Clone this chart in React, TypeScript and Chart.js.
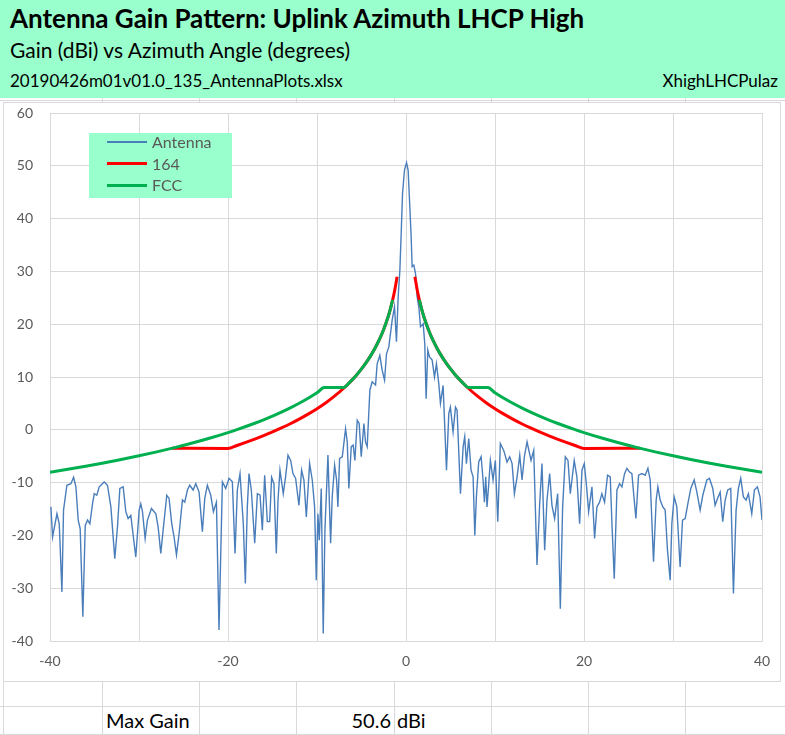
import React, { useEffect, useRef } from "react";
import { Chart, registerables } from "chart.js";

Chart.register(...registerables);

// ---- Data ----
const TITLE = "Antenna Gain Pattern: Uplink Azimuth LHCP High";
const SUBTITLE = "Gain (dBi) vs Azimuth Angle (degrees)";
const FILE_NAME = "20190426m01v01.0_135_AntennaPlots.xlsx";
const SHEET_ID = "XhighLHCPulaz";
const SERIES_NAMES = ["Antenna", "164", "FCC"];
const MAX_GAIN_LABEL = "Max Gain";
const MAX_GAIN_VALUE = "50.6";
const MAX_GAIN_UNIT = "dBi";

const X_MIN = -40;
const X_MAX = 40;
const Y_MIN = -40;
const Y_MAX = 60;
const X_LABELS = [-40, -20, 0, 20, 40];

const antennaAngle = [
  -39.9, -39.71, -39.22, -38.96, -38.66, -38.48, -38.1, -37.65, -37.35, -37.09,
  -36.83, -36.61, -36.31, -36.04, -35.78, -35.52, -35.22, -35.03, -34.74, -34.47,
  -33.91, -33.54, -33.16, -32.72, -32.42, -32.15, -31.78, -31.48, -31.22, -30.92,
  -30.36, -29.98, -29.8, -29.61, -29.31, -29.05, -28.6, -28.11, -27.85, -27.55,
  -27.29, -26.88, -26.62, -26.32, -26.06, -25.79, -25.49, -25.12, -24.86, -24.56,
  -24.3, -23.92, -23.62, -23.25, -22.88, -22.61, -22.32, -21.94, -21.64, -21.3,
  -21.01, -20.63, -20.26, -19.88, -19.51, -19.21, -18.95, -18.65, -18.28, -18.05,
  -17.83, -17.64, -17.38, -17.0, -16.7, -16.4, -16.14, -15.88, -15.58, -15.32,
  -15.1, -14.84, -14.57, -14.38, -14.16, -13.79, -13.53, -13.26, -12.96, -12.7,
  -12.4, -12.03, -11.73, -11.47, -11.2, -10.83, -10.53, -10.27, -10.08, -9.9,
  -9.75, -9.52, -9.3, -9.11, -8.77, -8.47, -8.29, -8.02, -7.8, -7.65,
  -7.46, -7.16, -6.79, -6.6, -6.42, -6.15, -5.93, -5.74, -5.48, -5.26,
  -5.03, -4.73, -4.55, -4.36, -4.06, -3.8, -3.42, -3.24, -2.94, -2.68,
  -2.41, -2.19, -1.93, -1.55, -1.29, -1.07, -0.88, -0.69, -0.54, -0.39,
  -0.17, 0.06, 0.24, 0.43, 0.58, 0.69, 0.88, 1.07, 1.25, 1.44,
  1.63, 1.93, 2.11, 2.26, 2.45, 2.64, 2.94, 3.2, 3.42, 3.68,
  3.87, 4.17, 4.55, 4.81, 4.99, 5.29, 5.56, 5.74, 6.12, 6.42,
  6.6, 6.79, 7.05, 7.31, 7.54, 7.73, 7.91, 8.17, 8.44, 8.66,
  8.81, 8.96, 9.1, 9.3, 9.48, 9.78, 10.04, 10.31, 10.6, 10.98,
  11.35, 11.65, 11.92, 12.18, 12.48, 12.78, 13.04, 13.3, 13.6, 14.05,
  14.35, 14.72, 15.02, 15.28, 15.58, 15.84, 16.14, 16.4, 16.7, 17.04,
  17.34, 17.6, 17.9, 18.2, 18.46, 18.9, 19.2, 19.51, 19.77, 20.03,
  20.26, 20.52, 20.89, 21.19, 21.45, 21.75, 22.01, 22.31, 22.65, 22.95,
  23.14, 23.4, 23.7, 24.0, 24.26, 24.56, 24.82, 25.12, 25.38, 25.83,
  26.13, 26.5, 26.88, 27.18, 27.44, 27.81, 28.11, 28.3, 28.56, 28.86,
  29.12, 29.38, 29.68, 29.87, 30.13, 30.43, 30.8, 31.07, 31.37, 31.67,
  32.0, 32.38, 32.68, 33.05, 33.35, 33.8, 34.1, 34.47, 34.73, 35.0,
  35.3, 35.59, 35.86, 36.15, 36.49, 36.79, 37.09, 37.35, 37.61, 37.91,
  38.21, 38.47, 38.85, 39.15, 39.48, 39.78, 40.0,
];

const antennaGain = [
  -14.6, -20.3, -15.9, -17.8, -30.7, -15.2, -10.5, -10.2, -9.0, -10.8,
  -17.1, -18.7, -35.4, -18.1, -17.1, -17.8, -14.0, -12.1, -12.4, -10.8,
  -9.9, -10.5, -14.6, -24.4, -18.4, -11.1, -10.8, -15.5, -16.8, -16.2,
  -24.1, -15.2, -14.0, -15.5, -20.6, -17.1, -14.9, -15.9, -18.4, -23.4,
  -19.0, -12.4, -13.0, -17.8, -20.3, -23.7, -19.6, -13.3, -13.7, -11.4,
  -10.5, -11.4, -10.2, -11.8, -19.3, -13.0, -10.5, -12.4, -15.5, -13.7,
  -37.9, -9.86, -11.1, -9.2, -9.86, -23.4, -11.4, -8.3, -17.8, -29.1,
  -14.6, -8.3, -11.4, -21.5, -12.1, -12.4, -19.0, -8.6, -17.4, -17.4,
  -9.0, -10.2, -23.4, -13.3, -7.65, -12.1, -8.9, -4.8, -5.8, -8.3,
  -9.2, -14.3, -7.65, -9.55, -16.5, -6.4, -9.55, -14.6, -28.5, -15.9,
  -20.9, -11.1, -38.6, -19.0, -4.8, -21.5, -12.7, -6.7, -9.5, -14.6,
  -5.4, -5.1, 0.2, -2.3, -11.1, -3.2, -2.9, -5.8, 1.8, 1.2,
  -5.1, 1.2, -2.3, -3.2, 7.5, 9.1, 8.5, 12.5, 14.1, 11.3,
  9.4, 14.4, 15.7, 20.8, 23.3, 16.7, 25.2, 30.2, 37.2, 44.7,
  49.2, 50.6, 49.2, 42.2, 36.5, 30.9, 31.2, 29.6, 25.2, 23.3,
  19.5, 20.1, 16.3, 5.9, 15.1, 13.8, 13.2, 10.0, 12.5, 8.8,
  5.0, 8.4, -7.65, 3.1, 4.3, -0.4, 4.3, 3.7, -12.1, -3.2,
  -1.3, -6.4, -1.65, -7.65, -8.9, -20.0, -12.7, -6.1, -5.1, -9.5,
  -13.7, -8.9, -14.6, -10.2, -5.8, -9.5, -5.8, -17.4, -2.6, -3.9,
  -6.1, -5.1, -6.4, -12.1, -8.9, -4.8, -9.5, -5.1, -2.3, -5.8,
  -3.9, -25.6, -14.0, -6.4, -22.8, -13.3, -8.3, -14.3, -16.8, -12.1,
  -33.9, -14.6, -5.1, -5.8, -12.1, -5.8, -8.9, -17.8, -7.65, -6.4,
  -10.2, -15.5, -10.8, -20.6, -14.6, -13.7, -12.1, -13.7, -8.6, -8.9,
  -17.8, -28.2, -11.4, -10.2, -10.8, -8.3, -7.3, -8.0, -8.3, -16.8,
  -8.6, -8.3, -8.6, -7.3, -9.5, -25.0, -13.3, -10.8, -13.3, -14.6,
  -15.2, -22.8, -28.5, -17.8, -12.7, -14.6, -26.0, -17.1, -16.8, -14.0,
  -11.1, -9.5, -11.8, -15.2, -12.4, -9.5, -9.2, -11.1, -14.3, -13.0,
  -11.8, -17.4, -13.3, -11.4, -11.1, -31.0, -15.2, -11.1, -9.2, -12.7,
  -13.3, -12.1, -15.9, -11.4, -10.8, -12.7, -17.1,
];

// "164" envelope (null splits the two sides)
const env164Angle = [
  -26.3, -20, -19, -18, -17, -16, -15, -14, -13, -12, -11, -10, -9, -8, -7, -6.5, -6, -5.5, -5, -4.5,
  -4, -3.5, -3, -2.5, -2, -1.75, -1.5, -1.25, -1, 0,
  1, 1.25, 1.5, 1.75, 2, 2.5, 3, 3.5, 4, 4.5, 5, 5.5, 6, 6.5, 7, 8, 9, 10, 11, 12,
  13, 14, 15, 16, 17, 18, 19, 20, 26.3,
];
const env164Gain = [
  -3.5, -3.53, -2.97, -2.38, -1.76, -1.1, -0.4, 0.35, 1.15, 2.02, 2.97, 4.0, 5.14, 6.42, 7.87, 8.68, 9.55, 10.49, 11.53, 12.67,
  13.95, 15.4, 17.07, 19.05, 21.47, 22.92, 24.6, 26.58, 29.0, null,
  29.0, 26.58, 24.6, 22.92, 21.47, 19.05, 17.07, 15.4, 13.95, 12.67, 11.53, 10.49, 9.55, 8.68, 7.87, 6.42, 5.14, 4.0, 2.97, 2.02,
  1.15, 0.35, -0.4, -1.1, -1.76, -2.38, -2.97, -3.53, -3.5,
];

// FCC envelope
const fccAngle = [
  -40, -38, -36, -34, -32, -30, -28, -26, -24, -22, -20, -19, -18, -17, -16, -15, -14, -13, -12, -11,
  -10, -9.2, -7, -6.5, -6, -5.5, -5, -4.5, -4, -3.5, -3, -2.5, -2, -1.75, -1.5, 0,
  1.5, 1.75, 2, 2.5, 3, 3.5, 4, 4.5, 5, 5.5, 6, 6.5, 7, 9.2, 10, 11, 12, 13, 14, 15,
  16, 17, 18, 19, 20, 22, 24, 26, 28, 30, 32, 34, 36, 38, 40,
];
const fccGain = [
  -8.05, -7.49, -6.91, -6.29, -5.63, -4.93, -4.18, -3.37, -2.5, -1.56, -0.53, 0.03, 0.62, 1.24, 1.9, 2.6, 3.35, 4.15, 5.02, 5.97,
  7.0, 8.0, 8.0, 8.68, 9.55, 10.49, 11.53, 12.67, 13.95, 15.4, 17.07, 19.05, 21.47, 22.92, 24.6, null,
  24.6, 22.92, 21.47, 19.05, 17.07, 15.4, 13.95, 12.67, 11.53, 10.49, 9.55, 8.68, 8.0, 8.0, 7.0, 5.97, 5.02, 4.15, 3.35, 2.6,
  1.9, 1.24, 0.62, 0.03, -0.53, -1.56, -2.5, -3.37, -4.18, -4.93, -5.63, -6.29, -6.91, -7.49, -8.05,
];

// ---- Style ----
const HEADER_BG = "#99ffcc";
const ANTENNA_COLOR = "#4a7ebb";
const RED_COLOR = "#ff0000";
const GREEN_COLOR = "#00b050";
const GRID_COLOR = "#d9d9d9";
const TEXT_GRAY = "#595959";
const FONT = "Lato, 'Open Sans', sans-serif";

const toPoints = (xs: number[], ys: (number | null)[]) =>
  xs.map((x, i) => ({ x, y: ys[i] }));

const TABLE_COLS = [102, 199, 296, 394, 491, 588, 685];

export default function App() {
  const canvasRef = useRef<HTMLCanvasElement | null>(null);

  useEffect(() => {
    const canvas = canvasRef.current;
    if (!canvas) return;
    const chart = new Chart(canvas, {
      type: "line",
      data: {
        datasets: [
          {
            label: SERIES_NAMES[2],
            data: toPoints(fccAngle, fccGain),
            borderColor: GREEN_COLOR,
            borderWidth: 3,
            pointRadius: 0,
            fill: false,
            spanGaps: false,
            cubicInterpolationMode: "monotone",
          },
          {
            label: SERIES_NAMES[1],
            data: toPoints(env164Angle, env164Gain),
            borderColor: RED_COLOR,
            borderWidth: 3,
            pointRadius: 0,
            fill: false,
            spanGaps: false,
            cubicInterpolationMode: "monotone",
          },
          {
            label: SERIES_NAMES[0],
            data: toPoints(antennaAngle, antennaGain),
            borderColor: ANTENNA_COLOR,
            borderWidth: 1.4,
            pointRadius: 0,
            fill: false,
            tension: 0,
          },
        ],
      },
      options: {
        responsive: false,
        animation: false,
        events: [],
        layout: { padding: { left: 0, right: 18, top: 10, bottom: 0 } },
        plugins: {
          legend: { display: false },
          tooltip: { enabled: false },
          title: { display: false },
        },
        scales: {
          x: {
            type: "linear",
            min: X_MIN,
            max: X_MAX,
            afterFit: (s: any) => {
              s.height = 40;
              s.paddingLeft = 0;
              s.paddingRight = 0;
            },
            ticks: {
              stepSize: 10,
              padding: 12,
              color: TEXT_GRAY,
              font: { family: FONT, size: 14 },
              maxRotation: 0,
              autoSkip: false,
              callback: (v: any) => (X_LABELS.includes(Number(v)) ? String(v) : ""),
            },
            grid: { color: GRID_COLOR, drawTicks: false, lineWidth: 1 },
            border: { display: true, color: GRID_COLOR },
          },
          y: {
            type: "linear",
            min: Y_MIN,
            max: Y_MAX,
            afterFit: (s: any) => {
              s.width = 46;
              s.paddingTop = 0;
              s.paddingBottom = 0;
            },
            ticks: {
              stepSize: 10,
              padding: 17,
              color: TEXT_GRAY,
              font: { family: FONT, size: 14 },
            },
            grid: { color: GRID_COLOR, drawTicks: false, lineWidth: 1 },
            border: { display: true, color: GRID_COLOR },
          },
        },
      },
    });
    return () => chart.destroy();
  }, []);

  const abs = (s: React.CSSProperties): React.CSSProperties => ({ position: "absolute", ...s });

  return (
    <div style={abs({ left: 0, top: 0, width: 785, height: 735, background: "#ffffff", overflow: "hidden", fontFamily: FONT })}>
      {/* Header band */}
      <div style={abs({ left: 0, top: 0, width: 785, height: 98, background: HEADER_BG })} />
      <div style={abs({ left: 10, top: 3, fontSize: 26, lineHeight: "31px", fontWeight: 700, color: "#000", whiteSpace: "nowrap" })}>{TITLE}</div>
      <div style={abs({ left: 10, top: 37, fontSize: 21, lineHeight: "25px", color: "#000", whiteSpace: "nowrap" })}>{SUBTITLE}</div>
      <div style={abs({ left: 10, top: 71, fontSize: 17, lineHeight: "20px", color: "#000", whiteSpace: "nowrap" })}>{FILE_NAME}</div>
      <div style={abs({ right: 7, top: 71, fontSize: 17, lineHeight: "20px", color: "#000", whiteSpace: "nowrap" })}>{SHEET_ID}</div>

      {/* spreadsheet strip between header and chart */}
      <div style={abs({ left: 0, top: 100, width: 785, height: 1, background: GRID_COLOR })} />
      {TABLE_COLS.map((x) => (
        <div key={"t" + x} style={abs({ left: x, top: 98, width: 1, height: 4, background: GRID_COLOR })} />
      ))}

      {/* chart frame */}
      <div style={abs({ left: 3, top: 102, width: 776, height: 578, border: `1px solid ${GRID_COLOR}` })} />
      <canvas ref={canvasRef} width={776} height={578} style={abs({ left: 4, top: 103, width: 776, height: 578 })} />

      {/* legend */}
      <div style={abs({ left: 89, top: 133, width: 143, height: 65, background: HEADER_BG })}>
        {[
          { name: SERIES_NAMES[0], color: ANTENNA_COLOR, w: 1.5 },
          { name: SERIES_NAMES[1], color: RED_COLOR, w: 3 },
          { name: SERIES_NAMES[2], color: GREEN_COLOR, w: 3 },
        ].map((it, i) => (
          <div key={it.name} style={abs({ left: 0, top: i * 21.5, width: 143, height: 18 })}>
            <div style={abs({ left: 18, top: 9 - it.w / 2, width: 40, height: it.w, background: it.color })} />
            <div style={abs({ left: 63, top: -1, fontSize: 16, color: TEXT_GRAY, whiteSpace: "nowrap", lineHeight: "20px" })}>{it.name}</div>
          </div>
        ))}
      </div>

      {/* bottom table */}
      <div style={abs({ left: 3, top: 681, width: 1, height: 54, background: GRID_COLOR })} />
      <div style={abs({ left: 0, top: 706, width: 785, height: 1, background: GRID_COLOR })} />
      <div style={abs({ left: 0, top: 734, width: 785, height: 1, background: GRID_COLOR })} />
      {TABLE_COLS.map((x) => (
        <div key={"b" + x} style={abs({ left: x, top: 681, width: 1, height: 54, background: GRID_COLOR })} />
      ))}
      <div style={abs({ left: 106, top: 708, fontSize: 20, lineHeight: "24px", color: "#000", whiteSpace: "nowrap" })}>{MAX_GAIN_LABEL}</div>
      <div style={abs({ left: 296, width: 95, top: 708, fontSize: 20, lineHeight: "24px", color: "#000", textAlign: "right", whiteSpace: "nowrap" })}>{MAX_GAIN_VALUE}</div>
      <div style={abs({ left: 397, top: 708, fontSize: 20, lineHeight: "24px", color: "#000", whiteSpace: "nowrap" })}>{MAX_GAIN_UNIT}</div>
    </div>
  );
}
